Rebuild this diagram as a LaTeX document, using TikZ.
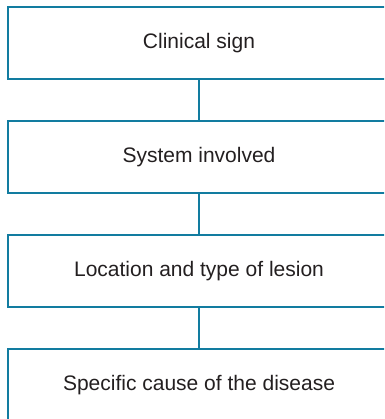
\documentclass[tikz,border=0pt]{standalone}
\usepackage{fontspec}
\setmainfont{Liberation Sans}
\usetikzlibrary{positioning}
\definecolor{boxblue}{RGB}{18,124,160}
\definecolor{inkgray}{RGB}{35,31,32}

\begin{document}
\begin{tikzpicture}[
  x=1pt, y=1pt,
  node distance=40pt,
  stage/.style={draw=boxblue, line width=2pt, minimum width=383pt,
                minimum height=72pt, inner sep=0pt, text=inkgray,
                font=\fontsize{21}{24}\selectfont},
  link/.style={draw=boxblue, line width=2pt}
]
\useasboundingbox (0,0) rectangle (384,-419);
\clip (0,0) rectangle (384,-419);

\node[stage] (sign) at (199,-43) {Clinical sign};
\node[stage, below=of sign] (system) {System involved};
\node[stage, below=of system] (lesion) {Location and type of lesion};
\node[stage, below=of lesion] (cause) {Specific cause of the disease};

\draw[link] (sign) -- (system);
\draw[link] (system) -- (lesion);
\draw[link] (lesion) -- (cause);
\end{tikzpicture}
\end{document}
